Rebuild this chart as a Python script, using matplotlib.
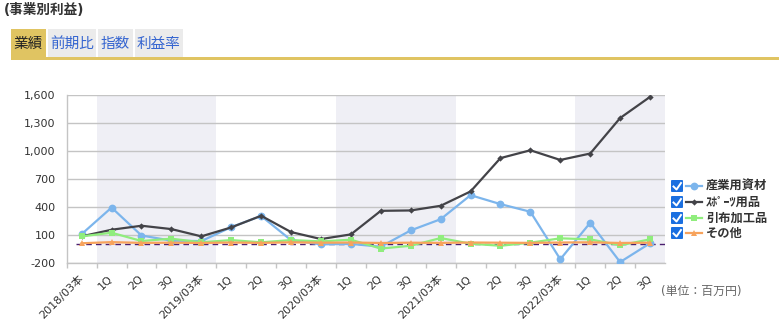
import matplotlib
matplotlib.use("Agg")
import matplotlib.pyplot as plt
from matplotlib.patches import Rectangle, FancyBboxPatch
from matplotlib.lines import Line2D
import numpy as np

plt.rcParams["font.family"] = ["DejaVu Sans", "Noto Sans CJK JP"]

W, H = 779, 324

PERIODS = ["2018/03本", "1Q", "2Q", "3Q",
           "2019/03本", "1Q", "2Q", "3Q",
           "2020/03本", "1Q", "2Q", "3Q",
           "2021/03本", "1Q", "2Q", "3Q",
           "2022/03本", "1Q", "2Q", "3Q"]

# 百万円
INDUSTRIAL = [110, 395, 95, 40, 35, 185, 305, 45, 0, 5, -25, 150,
              270, 528, 432, 350, -160, 232, -190, 12]
SPORTS = [86, 157, 200, 164, 86, 182, 307, 132, 57, 107, 360, 364,
          414, 568, 926, 1010, 906, 975, 1356, 1583]
TEXTILE = [86, 125, 36, 61, 22, 46, 22, 46, 32, 50, -45, -15,
           68, 7, -15, 18, 65, 54, -10, 54]
OTHER = [12, 24, 16, 18, 15, 20, 16, 22, 18, 20, 15, 18,
         16, 20, 18, 16, 20, 22, 15, 18]

SERIES = [
    ("産業用資材", INDUSTRIAL, "#7cb5ec", "o", 5.6),
    ("ｽﾎﾟｰﾂ用品", SPORTS, "#434348", "D", 3.2),
    ("引布加工品", TEXTILE, "#90ed7d", "s", 5.0),
    ("その他", OTHER, "#f7a35c", "^", 5.0),
]

YTICKS = [-200, 100, 400, 700, 1000, 1300, 1600]
SHADED = [(0.5, 4.5), (8.5, 12.5), (16.5, 19.5)]


def fx(x):
    return x / W


def fy(y):
    return 1 - y / H


fig = plt.figure(figsize=(W / 100, H / 100), dpi=100)
ax = fig.add_axes([fx(66.7), fy(263), fx(665) - fx(66.7), fy(95.3) - fy(263)])

x = np.arange(len(PERIODS))
for a, b in SHADED:
    ax.axvspan(a, b, color="#efeff5", lw=0, zorder=0)

for v in YTICKS:
    ax.axhline(v, color="#c4c4c4", lw=1, zorder=1)

ax.hlines(0, -0.19, 19.5, colors="#4b1f6f", linestyles=(0, (4, 3)), lw=1, zorder=2)

for name, vals, col, mk, ms in SERIES:
    ax.plot(x, vals, color=col, lw=1.6, marker=mk, markersize=ms,
            markeredgewidth=0, zorder=3)

ax.set_xlim(-0.5, 19.5)
ax.set_ylim(-200, 1600)
ax.set_yticks(YTICKS)
ax.set_yticklabels([f"{v:,}" for v in YTICKS], fontsize=8, color="#333333")
ax.tick_params(axis="y", length=0, pad=8)

ax.set_xticks(x)
ax.set_xticklabels(PERIODS, fontsize=8, color="#333333", rotation=45,
                   ha="right", va="center", rotation_mode="anchor")
ax.set_xticks(np.arange(-0.5, 19.5, 1.0), minor=True)
ax.tick_params(axis="x", which="major", length=0, pad=10)
ax.tick_params(axis="x", which="minor", length=3.3, color="#c4c4c4", width=1)

for s in ["top", "right"]:
    ax.spines[s].set_visible(False)
for s in ["left", "bottom"]:
    ax.spines[s].set_color("#c4c4c4")
    ax.spines[s].set_linewidth(1)

# header
fig.text(fx(4), fy(10), "(事業別利益)", fontsize=9.8, fontweight="bold",
         color="#333333", va="center", ha="left")

tabs = [("業績", 11, 45.7, True), ("前期比", 48, 96, False),
        ("指数", 98, 133, False), ("利益率", 135, 183, False)]
for label, x0, x1, active in tabs:
    fig.add_artist(Rectangle((fx(x0), fy(57)), fx(x1) - fx(x0), fy(29) - fy(57),
                             transform=fig.transFigure,
                             facecolor="#e0c462" if active else "#ebebeb",
                             edgecolor="none"))
    fig.text(fx((x0 + x1) / 2), fy(43.5), label, fontsize=10.5,
             color="#222222" if active else "#3565d0", ha="center", va="center")
fig.add_artist(Rectangle((fx(11), fy(60)), fx(779) - fx(11), fy(57) - fy(60),
                         transform=fig.transFigure, facecolor="#e0c462",
                         edgecolor="none"))

# legend
rows = [186, 202, 218, 233]
for (name, vals, col, mk, ms), yy in zip(SERIES, rows):
    fig.add_artist(FancyBboxPatch((fx(671), fy(yy + 6)), fx(12), fy(0) - fy(12),
                                  boxstyle="round,pad=0,rounding_size=0.002",
                                  transform=fig.transFigure,
                                  facecolor="#1a6fe0", edgecolor="none"))
    fig.add_artist(Line2D([fx(673.5), fx(676.5), fx(681)],
                          [fy(yy + 0.5), fy(yy + 3.5), fy(yy - 3)],
                          transform=fig.transFigure, color="white", lw=1.4))
    fig.add_artist(Line2D([fx(686), fx(702)], [fy(yy), fy(yy)],
                          transform=fig.transFigure, color=col, lw=1.6))
    fig.add_artist(Line2D([fx(694)], [fy(yy)], transform=fig.transFigure,
                          color=col, marker=mk, markersize=ms, markeredgewidth=0))
    fig.text(fx(706), fy(yy), name, fontsize=8.8, fontweight="bold",
             color="#333333", ha="left", va="center")

fig.text(fx(742), fy(291), "(単位：百万円)", fontsize=8.6, color="#666666",
         ha="right", va="center")

fig.savefig("out.png", dpi=100)
